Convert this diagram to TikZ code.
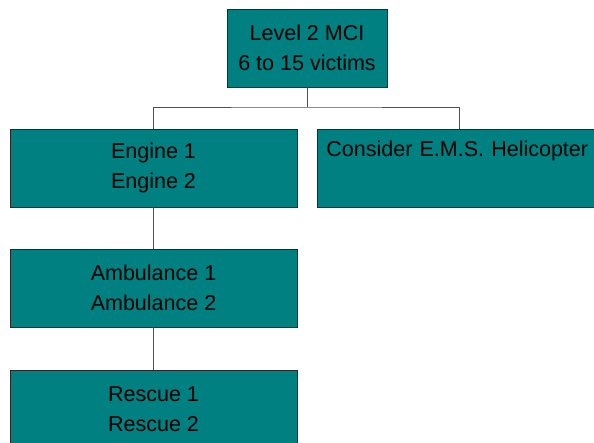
\documentclass[tikz,border=0pt]{standalone}
\usepackage{fontspec}
\setmainfont{Liberation Sans}
\definecolor{boxteal}{RGB}{0,128,128}
\definecolor{boxedge}{RGB}{40,40,40}
\definecolor{linkgray}{RGB}{80,80,80}
\tikzset{
  unitbox/.style={draw=boxedge, line width=0.9pt, fill=boxteal, text=black,
    minimum width=287pt, minimum height=78pt, inner sep=0pt, align=center,
    font=\fontsize{21.5}{30}\selectfont},
  link/.style={draw=linkgray, line width=1pt}
}
\begin{document}
\begin{tikzpicture}[x=1pt,y=-1pt]
  \path[use as bounding box, clip] (0,0) rectangle (594,442);
  \fill[white] (0,0) rectangle (594,442);

  % incident level
  \node[unitbox, minimum width=160pt] (level) at (307,48)
    {Level 2 MCI\\6 to 15 victims};

  % response units
  \node[unitbox] (engine) at (153.5,168) {Engine 1\\Engine 2};
  \node[unitbox, anchor=north west, align=left, text width=269pt,
        inner xsep=7pt, inner ysep=0pt] (heli) at (317,129)
    {Consider E.M.S. Helicopter\\\strut};
  \node[unitbox] (amb) at (153.5,288) {Ambulance 1\\Ambulance 2};
  \node[unitbox] (rescue) at (153.5,409) {Rescue 1\\Rescue 2};

  % branching connectors
  \coordinate (split) at (307,107);
  \draw[link] (level.south) -- (split);
  \draw[link] (engine.north -| 153.5,0) |- (split) -| (heli.north -| 459,0);
  \draw[link] (engine.south) -- (amb.north);
  \draw[link] (amb.south) -- (rescue.north);
\end{tikzpicture}
\end{document}
